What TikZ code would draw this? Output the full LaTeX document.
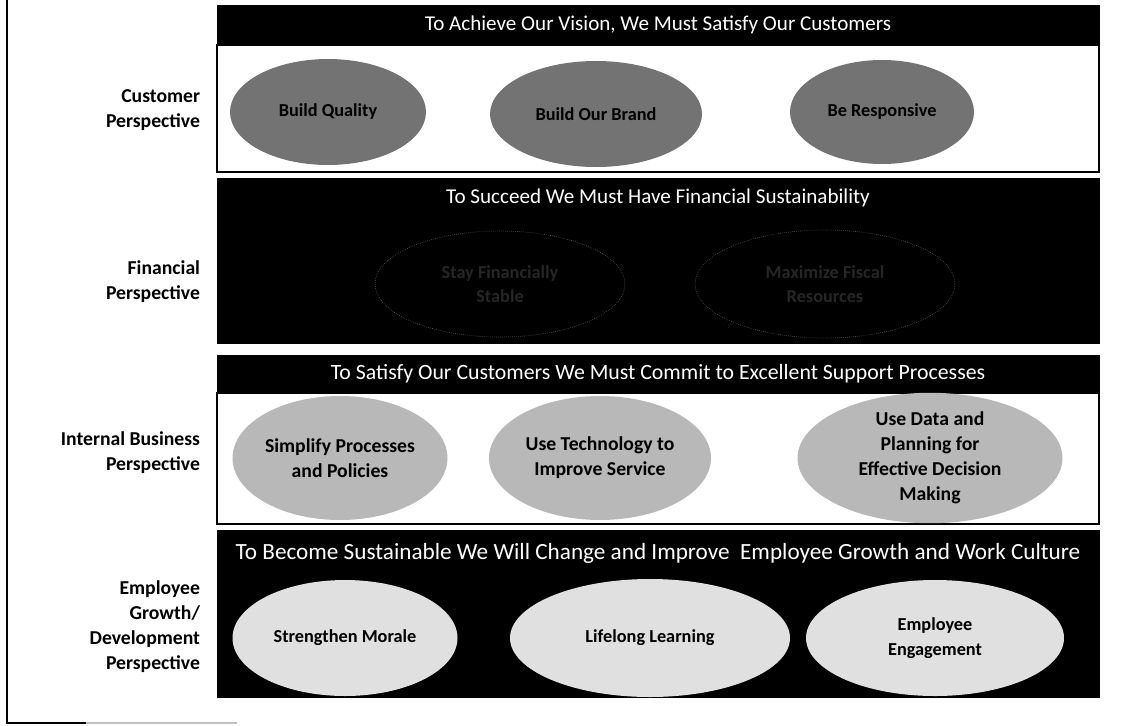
\documentclass[tikz,border=0pt]{standalone}
\usepackage{fontspec}
\setmainfont{Carlito}
\usetikzlibrary{shapes.geometric}

\tikzset{
	banner/.style={text=white, font=\fontsize{15}{17}\selectfont},
	persp/.style={anchor=east, align=right, font=\bfseries\fontsize{14}{17.8}\selectfont},
	goal/.style n args={2}{ellipse, minimum width=#1*0.025cm, minimum height=#2*0.025cm,
		inner sep=0pt, align=center, font=\bfseries\fontsize{13}{17.5}\selectfont},
}

\begin{document}
\begin{tikzpicture}[x=0.025cm, y=-0.025cm]
			%%%%% START %%%%%
			\useasboundingbox (0, 0) rectangle (1125, 725);
			
			% frame
			\draw[line width=1.2pt] (7, 0) -- (7, 723) -- (86, 723);
			\draw[black!25, line width=1pt] (86, 723) -- (237, 723);
			
			% customer
			\draw[fill=black] (217, 5) rectangle (1099, 45);
			\draw[line width=0.8pt] (217, 45) rectangle (1099, 172);
			\node[banner] (vision) at (658, 25) {To Achieve Our Vision, We Must Satisfy Our Customers};
			\node[goal={196}{106}, fill=black!55] (quality) at (328, 112) {Build Quality};
			\node[goal={212}{106}, fill=black!55] (brand) at (596, 114) {Build Our Brand};
			\node[goal={184}{104}, fill=black!55] (responsive) at (882, 112) {Be Responsive};
			\node[persp] (customer) at (205, 110) {Customer\\Perspective};
			
			% financial
			\draw[fill=black] (217, 178) rectangle (1099, 343);
			\node[banner] (succeed) at (658, 198) {To Succeed We Must Have Financial Sustainability};
			\node[goal={250}{106}, draw=black!55, densely dotted, text=black!85] (stable) at (500, 284) {Stay Financially\\Stable};
			\node[goal={260}{108}, draw=black!55, densely dotted, text=black!85] (fiscal) at (825, 284) {Maximize Fiscal\\Resources};
			\node[persp] (financial) at (205, 282) {Financial\\Perspective};
			
			% internal business
			\draw[fill=black] (217, 355) rectangle (1099, 393);
			\draw[line width=0.8pt] (217, 393) rectangle (1099, 524);
			\node[banner, font=\fontsize{15.5}{17}\selectfont] (satisfy) at (658, 374) {To Satisfy Our Customers We Must Commit to Excellent Support Processes};
			\node[goal={215}{124}, fill=black!28, font=\bfseries\fontsize{14}{17.8}\selectfont] (simplify) at (340, 458) {Simplify Processes\\and Policies};
			\node[goal={222}{124}, fill=black!28, font=\bfseries\fontsize{14}{17.8}\selectfont] (technology) at (600, 458) {Use Technology to\\Improve Service};
			\node[goal={265}{124}, fill=black!28, font=\bfseries\fontsize{14}{17.8}\selectfont] (data) at (930, 458) {Use Data and\\Planning for\\Effective Decision\\Making};
			\node[persp] (internal) at (205, 453) {Internal Business\\Perspective};
			
			% employee growth
			\draw[fill=black] (217, 530) rectangle (1099, 697);
			\node[banner, font=\fontsize{16.5}{17}\selectfont] (sustainable) at (658, 553) {To Become Sustainable We Will Change and Improve \ Employee Growth and Work Culture};
			\node[goal={225}{116}, fill=black!12] (morale) at (345, 638) {Strengthen Morale};
			\node[goal={280}{118}, fill=black!12] (learning) at (650, 638) {Lifelong Learning};
			\node[goal={258}{116}, fill=black!12] (engagement) at (935, 638) {Employee\\Engagement};
			\node[persp] (employee) at (205, 627) {Employee\\Growth/\\Development\\Perspective};
			%%%%% END %%%%%
\end{tikzpicture}
\end{document}
